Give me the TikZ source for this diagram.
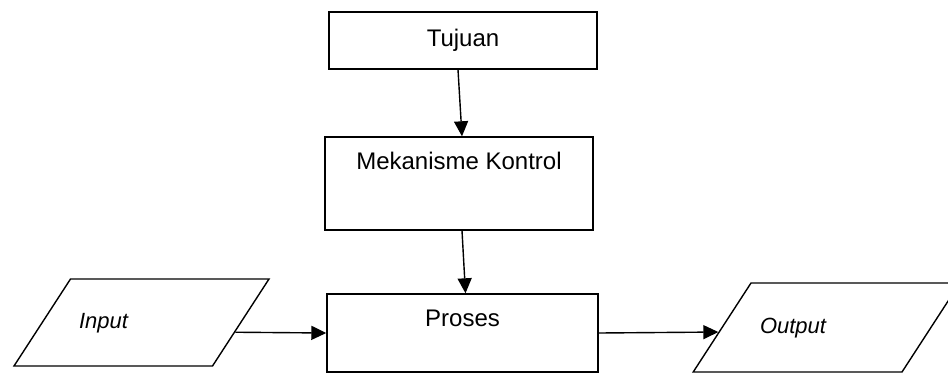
\documentclass[tikz,border=0pt]{standalone}
\usepackage{fontspec}
\setmainfont{Liberation Sans}
\usetikzlibrary{shapes.geometric,calc,arrows.meta}

\begin{document}
\begin{tikzpicture}[x=1pt, y=-1pt, line width=1.4pt,
    font=\fontsize{24}{28}\selectfont,
    box/.style={draw, rectangle, minimum width=268pt, inner sep=0pt},
    topbox/.style={box, text height=32pt},
    io/.style={draw, trapezium, trapezium left angle=57, trapezium right angle=123,
      text height=16pt, text depth=5pt,
      font=\itshape\fontsize{22}{26}\selectfont, align=left},
    arrow/.style={-{Triangle[length=15pt,width=14pt]}}]
  \useasboundingbox (0,0) rectangle (948,373);
  \clip (0,0) rectangle (948,373);

  \node [box, minimum height=57pt] (tujuan) at (463,40.5) {Tujuan};
  \node [topbox, text depth=61pt] (kontrol) at (459,183.5) {Mekanisme Kontrol};
  \node [topbox, minimum width=271pt, text depth=46pt] (proses) at (462.5,333) {Proses};
  % input / output parallelograms
  \node [io, text width=125pt, inner xsep=8.5pt, inner ysep=33pt] (input) at (141.5,322.5) {Input};
  \node [io, text width=133pt, inner xsep=9pt, inner ysep=34pt] (output) at (826.5,327.5) {Output};

  \draw [arrow] ([xshift=-5pt]tujuan.south) -- ([xshift=3pt]kontrol.north);
  \draw [arrow] ([xshift=3pt]kontrol.south) -- ([xshift=3pt]proses.north);
  \draw [arrow] ($(input.bottom right corner)!0.39!(input.top right corner)$) -- (proses.west);
  \draw [arrow] (proses.east) -- ($(output.bottom left corner)!0.45!(output.top left corner)$);
\end{tikzpicture}
\end{document}
